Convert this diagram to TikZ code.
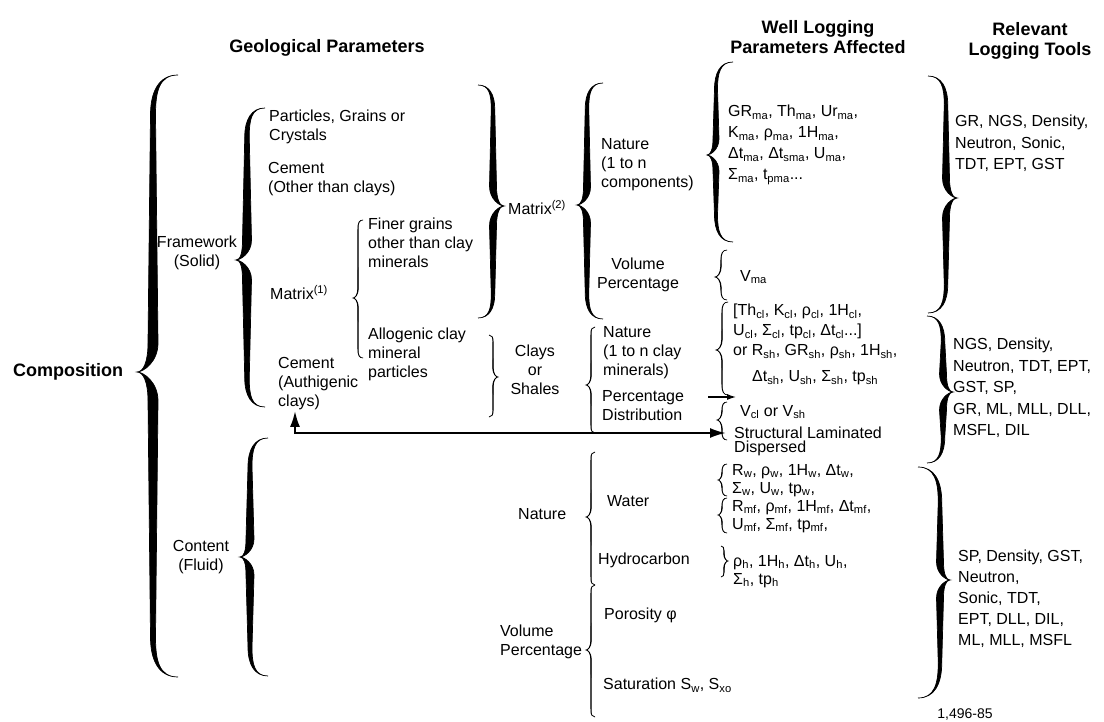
\documentclass[tikz,border=0pt]{standalone}
\usepackage{fontspec}
\setmainfont{Liberation Sans}
\usetikzlibrary{arrows.meta,positioning}

\newcommand{\sbs}[1]{\textsubscript{#1}}
% curly brace: spine x, top y, bottom y, tip y, tip offset, end offset, half width
\newcommand{\curly}[7]{%
  \pgfmathsetmacro{\brr}{1.6*abs(#6)}%
  \pgfmathsetmacro{\brs}{1.8*abs(#5)}%
  \pgfmathsetmacro{\brw}{0.5*#7}%
  \filldraw[line width=0.7pt]
    ({#1+#6},#2) .. controls ({#1+0.25*#6},#2) and ({#1-\brw},{#2+0.4*\brr}) .. ({#1-\brw},{#2+\brr})
    -- ({#1-#7},{#4-\brs}) .. controls ({#1-#7},{#4-0.35*\brs}) and ({#1+0.6*#5},#4) .. ({#1+#5},#4)
    .. controls ({#1+0.6*#5},#4) and ({#1-#7},{#4+0.35*\brs}) .. ({#1-#7},{#4+\brs})
    -- ({#1-\brw},{#3-\brr}) .. controls ({#1-\brw},{#3-0.4*\brr}) and ({#1+0.25*#6},#3) .. ({#1+#6},#3)
    .. controls ({#1+0.25*#6},#3) and ({#1+\brw},{#3-0.4*\brr}) .. ({#1+\brw},{#3-\brr})
    -- ({#1+#7},{#4+\brs}) .. controls ({#1+#7},{#4+0.35*\brs}) and ({#1+0.6*#5},#4) .. ({#1+#5},#4)
    .. controls ({#1+0.6*#5},#4) and ({#1+#7},{#4-0.35*\brs}) .. ({#1+#7},{#4-\brs})
    -- ({#1+\brw},{#2+\brr}) .. controls ({#1+\brw},{#2+0.4*\brr}) and ({#1+0.25*#6},#2) .. cycle;
}

\begin{document}
\begin{tikzpicture}[x=1pt,y=-1pt,>={Latex[length=16pt,width=10pt]},
    txt/.style={inner sep=0pt,align=left,anchor=north west,font=\fontsize{16}{19}\selectfont},
    tight/.style={txt,font=\fontsize{16}{18}\selectfont},
    tool/.style={txt,font=\fontsize{16}{21.5}\selectfont},
    head/.style={inner sep=0pt,align=center,anchor=north,font=\fontsize{18}{20}\selectfont\bfseries}]
\useasboundingbox (0,0) rectangle (1104,722);

% headings
\node[head] (geo) at (327,39) {Geological Parameters};
\node[head] (wlp) at (818,20) {Well Logging\\Parameters Affected};
\node[head] (rlt) at (1030,22) {Relevant\\Logging Tools};

% geological parameters
\node[head,anchor=west] (comp) at (13,372) {Composition};
\node[txt,align=center,anchor=north] (frame) at (197,236) {Framework\\(Solid)};
\node[txt,align=center,anchor=north] (content) at (201,540) {Content\\(Fluid)};
\node[txt] (grains) at (269,110) {Particles, Grains or\\Crystals};
\node[txt] (cemoth) at (268,162) {Cement\\(Other than clays)};
\node[txt] (matrix1) at (270,285) {Matrix\textsuperscript{(1)}};
\node[txt] (finer) at (368,218) {Finer grains\\other than clay\\minerals};
\node[txt] (allog) at (368,328) {Allogenic clay\\mineral\\particles};
\node[txt] (cemauth) at (278,357) {Cement\\(Authigenic\\clays)};
\node[txt] (matrix2) at (508,200) {Matrix\textsuperscript{(2)}};
\node[txt] (natma) at (601,138) {Nature\\(1 to n\\components)};
\node[txt,align=center,anchor=north] (volma) at (638,258) {Volume\\Percentage};
\node[txt,align=center,anchor=north] (clays) at (535,345) {Clays\\or\\Shales};
\node[txt] (natcl) at (603,326) {Nature\\(1 to n clay\\minerals)};
\node[txt] (pctcl) at (602,390) {Percentage\\Distribution};
\node[txt] (natfl) at (518,508) {Nature};
\node[txt] (water) at (607,495) {Water};
\node[txt] (hydro) at (598,553) {Hydrocarbon};
\node[txt] (poro) at (604,608) {Porosity φ};
\node[txt] (volfl) at (500,625) {Volume\\Percentage};
\node[txt] (satur) at (603,678) {Saturation S\sbs{w}, S\sbs{xo}};

% well logging parameters
\node[txt,font=\fontsize{16}{21}\selectfont] (parma) at (728,105)
  {GR\sbs{ma}, Th\sbs{ma}, Ur\sbs{ma},\\K\sbs{ma}, ρ\sbs{ma}, 1H\sbs{ma},\\Δt\sbs{ma}, Δt\sbs{sma}, U\sbs{ma},\\Σ\sbs{ma}, t\sbs{pma}...};
\node[txt] (vma) at (740,270) {V\sbs{ma}};
\node[txt,font=\fontsize{16}{20}\selectfont] (parcl) at (733,304)
  {[Th\sbs{cl}, K\sbs{cl}, ρ\sbs{cl}, 1H\sbs{cl},\\U\sbs{cl}, Σ\sbs{cl}, tp\sbs{cl}, Δt\sbs{cl}...]\\or R\sbs{sh}, GR\sbs{sh}, ρ\sbs{sh}, 1H\sbs{sh},\\[6pt]\hspace*{19pt}Δt\sbs{sh}, U\sbs{sh}, Σ\sbs{sh}, tp\sbs{sh}};
\node[txt] (vcl) at (740,405) {V\sbs{cl} or V\sbs{sh}};
\node[txt,anchor=west] (struct) at (734,433) {Structural Laminated};
\node[txt] (disp) at (734,441) {Dispersed};
\node[tight] (parw) at (732,464)
  {R\sbs{w}, ρ\sbs{w}, 1H\sbs{w}, Δt\sbs{w},\\Σ\sbs{w}, U\sbs{w}, tp\sbs{w},\\R\sbs{mf}, ρ\sbs{mf}, 1H\sbs{mf}, Δt\sbs{mf},\\U\sbs{mf}, Σ\sbs{mf}, tp\sbs{mf},};
\node[tight] (parh) at (733,555) {ρ\sbs{h}, 1H\sbs{h}, Δt\sbs{h}, U\sbs{h},\\Σ\sbs{h}, tp\sbs{h}};

% logging tools
\node[tool] (toolma) at (955,115) {GR, NGS, Density,\\Neutron, Sonic,\\TDT, EPT, GST};
\node[tool] (toolcl) at (953,338) {NGS, Density,\\Neutron, TDT, EPT,\\GST, SP,\\GR, ML, MLL, DLL,\\MSFL, DIL};
\node[tool,font=\fontsize{16}{21}\selectfont] (toolfl) at (958,550) {SP, Density, GST,\\Neutron,\\Sonic, TDT,\\EPT, DLL, DIL,\\ML, MLL, MSFL};
\node[inner sep=0pt,font=\fontsize{14}{16}\selectfont] (fignum) at (965,715) {1,496-85};

% braces
\curly{153}{75}{677}{372}{-16}{25}{5}
\curly{247}{108}{407}{260}{-11}{18}{4.5}
\curly{250}{438}{676}{557}{-10}{18}{4}
\curly{358}{220}{358}{298}{-5}{5}{0.3}
\curly{493}{85}{318}{206}{11}{-15}{3.5}
\curly{587}{83}{319}{205}{-10}{16}{3.5}
\curly{716}{62}{242}{155}{-9}{17}{3}
\curly{946}{76}{313}{198}{11}{-18}{3.5}
\curly{943}{316}{463}{392}{10}{-16}{3.5}
\curly{940}{467}{698}{580}{10}{-22}{3.5}
\curly{721}{250}{300}{277}{-6}{6}{0.3}
\curly{722}{302}{395}{350}{-6}{6}{0.3}
\curly{722}{402}{440}{420}{-5}{5}{0.3}
\curly{493}{335}{417}{377}{5}{-4}{0.3}
\curly{591}{327}{433}{385}{-5}{4}{0.3}
\curly{591}{452}{585}{517}{-5}{4}{0.3}
\curly{591}{585}{717}{650}{-5}{4}{0.3}
\curly{722}{464}{496}{480}{-4}{5}{0.3}
\curly{722}{498}{533}{515}{-4}{5}{0.3}
\curly{724}{546}{577}{561}{4}{-3}{0.3}

% arrows
\draw[line width=2.2pt,<->,shorten >=8pt,shorten <=1pt] ([xshift=17pt]cemauth.south west) |- (struct.west);
\coordinate (pd) at (708,397);
\draw[line width=1.2pt,-{Latex[length=9pt,width=6pt]},shorten >=4pt] (pd) -- (pd -| vcl.west);
\end{tikzpicture}
\end{document}
